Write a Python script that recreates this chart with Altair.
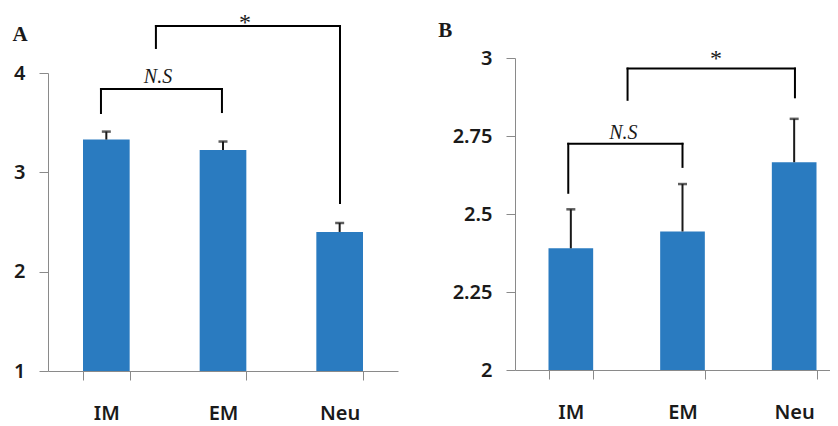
import altair as alt
import pandas as pd

categories = ["IM", "EM", "Neu"]

# Panel A
a_mean = [3.33, 3.225, 2.40]
a_err = [0.08, 0.085, 0.09]
# Panel B
b_mean = [2.39, 2.444, 2.666]
b_err = [0.125, 0.152, 0.139]

# significance brackets, in data units (x: 0..3 across the category axis)
a_seg_x = [0.454, 0.454, 1.491, 0.925, 0.925, 2.503]
a_seg_x2 = [1.491, 0.454, 1.491, 2.503, 0.925, 2.503]
a_seg_y = [3.839, 3.597, 3.607, 4.473, 4.252, 2.691]
a_seg_y2 = [3.839, 3.839, 3.839, 4.473, 4.473, 4.473]
a_ns_x, a_ns_y = 0.943, 3.96
a_star_x, a_star_y = 1.689, 4.625

b_seg_x = [0.477, 0.477, 1.50, 1.008, 1.008, 2.507]
b_seg_x2 = [1.50, 0.477, 1.50, 2.507, 1.008, 2.507]
b_seg_y = [2.725, 2.568, 2.651, 2.966, 2.866, 2.874]
b_seg_y2 = [2.725, 2.725, 2.725, 2.966, 2.966, 2.966]
b_ns_x, b_ns_y = 0.97, 2.76
b_star_x, b_star_y = 1.80, 3.036

BAR = "#2a7bc0"
AXIS = "#8a8a8a"
LABEL_FONT = "Noto Sans"


def panel(title, means, errs, sx, sx2, sy, sy2, ns_xy, star_xy, ydomain, yvalues,
          width, height, yrange, title_dx, title_offset):
    bars = pd.DataFrame({"cat": categories, "mean": means,
                         "upper": [m + e for m, e in zip(means, errs)]})
    segs = pd.DataFrame({"x": sx, "x2": sx2, "y": sy, "y2": sy2})
    ns = pd.DataFrame({"x": [ns_xy[0]], "y": [ns_xy[1]], "t": ["N.S"]})
    star = pd.DataFrame({"x": [star_xy[0]], "y": [star_xy[1]], "t": ["*"]})

    xband = alt.X("cat:N", sort=categories, title=None,
                  scale=alt.Scale(paddingInner=0.6, paddingOuter=0.3),
                  axis=alt.Axis(labelAngle=0, tickBand="extent", tickSize=9,
                                labelPadding=23, labelFont=LABEL_FONT,
                                labelFontSize=20, labelFontWeight=600,
                                labelColor="#1a1a1a", domainColor=AXIS,
                                tickColor=AXIS))
    yscale = alt.Scale(domain=ydomain, range=yrange, nice=False, zero=False)
    yenc = alt.Y("mean:Q", scale=yscale, title=None,
                 axis=alt.Axis(values=yvalues, format=".3~g", tickSize=9,
                               labelPadding=14, labelFont=LABEL_FONT,
                               labelFontSize=20, labelFontWeight=600,
                               labelColor="#1a1a1a", domainColor=AXIS,
                               tickColor=AXIS, grid=False))

    base = alt.Chart(bars)
    b = base.mark_bar(color=BAR, clip=True).encode(x=xband, y=yenc)
    err = base.mark_rule(color="#1a1a1a", strokeWidth=2).encode(
        x=alt.X("cat:N", sort=categories), y="mean:Q", y2="upper:Q")
    cap = base.mark_tick(color="#1a1a1a", thickness=2.5, size=9).encode(
        x=alt.X("cat:N", sort=categories), y="upper:Q")
    bar_layer = alt.layer(b, err, cap)

    qx = alt.Scale(domain=[0, 3], nice=False, zero=False)
    sg = alt.Chart(segs).mark_rule(color="black", strokeWidth=2,
                                   strokeCap="square").encode(
        x=alt.X("x:Q", scale=qx, axis=None), x2="x2:Q",
        y=alt.Y("y:Q", scale=yscale), y2="y2:Q")
    ns_t = alt.Chart(ns).mark_text(font="Liberation Serif", fontSize=20,
                                   fontStyle="italic", color="#1a1a1a",
                                   baseline="middle", align="center").encode(
        x=alt.X("x:Q", scale=qx, axis=None),
        y=alt.Y("y:Q", scale=yscale), text="t:N")
    star_t = alt.Chart(star).mark_text(font="Liberation Serif", fontSize=24,
                                       color="#1a1a1a", baseline="top",
                                       align="center").encode(
        x=alt.X("x:Q", scale=qx, axis=None),
        y=alt.Y("y:Q", scale=yscale), text="t:N")
    ann_layer = alt.layer(sg, ns_t, star_t)

    return alt.layer(bar_layer, ann_layer).resolve_scale(x="independent").properties(
        width=width, height=height,
        title=alt.TitleParams(title, anchor="start", font="Liberation Serif",
                              fontSize=21, fontWeight="bold", color="#1a1a1a",
                              dx=title_dx, offset=title_offset))


pa = panel("A", a_mean, a_err, a_seg_x, a_seg_x2, a_seg_y, a_seg_y2,
           (a_ns_x, a_ns_y), (a_star_x, a_star_y), [1, 4], [1, 2, 3, 4],
           350, 313, [313, 15], -1, -34)
pb = panel("B", b_mean, b_err, b_seg_x, b_seg_x2, b_seg_y, b_seg_y2,
           (b_ns_x, b_ns_y), (b_star_x, b_star_y), [2, 3],
           [2, 2.25, 2.5, 2.75, 3], 335, 312, [312, 0], -14, 6)

chart = alt.hconcat(pa, pb, spacing=40).properties(
    autosize=alt.AutoSizeParams(type="none"),
    padding={"left": 40, "top": 50, "right": 782, "bottom": 368}
).configure_view(strokeWidth=0).configure_axis(grid=False)

chart.save("out.html", embed_options={"renderer": "svg", "actions": False})
